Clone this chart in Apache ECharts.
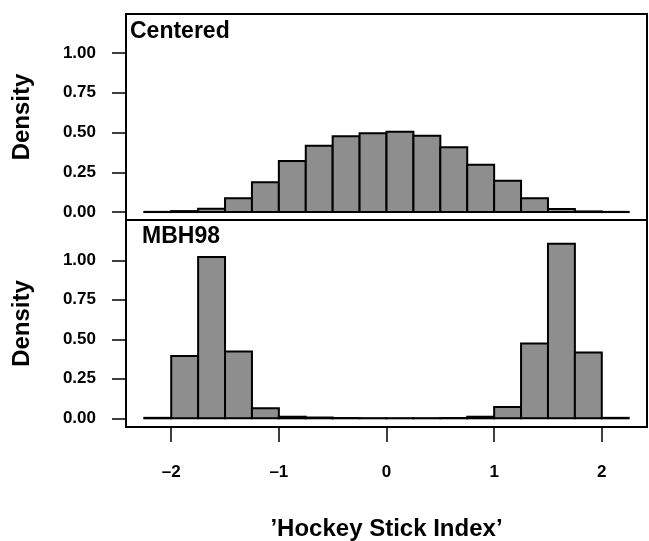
<!DOCTYPE html>
<html>
<head>
<meta charset="utf-8">
<script src="https://cdn.jsdelivr.net/npm/echarts@6/dist/echarts.min.js"></script>
<style>
html,body{margin:0;padding:0;background:#fff;}
#chart{width:649px;height:541px;}
</style>
</head>
<body>
<div id="chart"></div>
<script>
// Histogram bin edges (bin width 0.25)
var binLower = [-2.25, -2.0, -1.75, -1.5, -1.25, -1.0, -0.75, -0.5, -0.25, 0.0, 0.25, 0.5, 0.75, 1.0, 1.25, 1.5, 1.75, 2.0];
var binUpper = [-2.0, -1.75, -1.5, -1.25, -1.0, -0.75, -0.5, -0.25, 0.0, 0.25, 0.5, 0.75, 1.0, 1.25, 1.5, 1.75, 2.0, 2.25];
// Densities, panel "Centered"
var centered = [0.001, 0.006, 0.021, 0.086, 0.187, 0.321, 0.417, 0.476, 0.495, 0.505, 0.480, 0.407, 0.298, 0.197, 0.086, 0.019, 0.004, 0.001];
// Densities, panel "MBH98"
var mbh98 = [0.003, 0.394, 1.021, 0.423, 0.063, 0.010, 0.005, 0.002, 0.001, 0.001, 0.001, 0.002, 0.010, 0.072, 0.474, 1.105, 0.417, 0.003];
// Tick labels
var xTicks = [-2, -1, 0, 1, 2];
var yTicks = [0, 0.25, 0.5, 0.75, 1.0];
var panelTitles = ['Centered', 'MBH98'];
var yTitle = 'Density';
var xTitle = '\u2019Hockey Stick Index\u2019';

var FONT = '"Liberation Sans", Arial, Helvetica, sans-serif';

function toData(vals) {
  return vals.map(function (v, i) { return [binLower[i], binUpper[i], v]; });
}

function renderBin(params, api) {
  var p0 = api.coord([api.value(0), api.value(2)]);
  var p1 = api.coord([api.value(1), 0]);
  return {
    type: 'rect',
    shape: { x: p0[0], y: p0[1], width: p1[0] - p0[0], height: p1[1] - p0[1] },
    style: { fill: '#8e8e8e', stroke: '#000', lineWidth: 2 }
  };
}

function yAxisDef(gridIndex, min, max) {
  return {
    type: 'value', gridIndex: gridIndex, min: min, max: max,
    axisLine: { show: false, onZero: false },
    splitLine: { show: false },
    axisTick: { show: true, length: 14, customValues: yTicks, lineStyle: { color: '#000', width: 1.5 } },
    axisLabel: {
      customValues: yTicks, margin: 30, color: '#000', fontFamily: FONT, fontWeight: 'bold', fontSize: 17,
      formatter: function (v) { return v.toFixed(2); }
    },
    name: yTitle, nameLocation: 'middle', nameRotate: 90, nameGap: 92,
    nameTextStyle: { color: '#000', fontFamily: FONT, fontWeight: 'bold', fontSize: 24 }
  };
}

var chart = echarts.init(document.getElementById('chart'), null, { renderer: 'canvas' });
chart.setOption({
  animation: false,
  backgroundColor: '#fff',
  title: [
    { text: panelTitles[0], left: 130, top: 20, padding: 0,
      textStyle: { color: '#000', fontFamily: FONT, fontWeight: 'bold', fontSize: 23 } },
    { text: panelTitles[1], left: 142, top: 225, padding: 0,
      textStyle: { color: '#000', fontFamily: FONT, fontWeight: 'bold', fontSize: 23 } }
  ],
  grid: [
    { left: 126, right: 2, top: 14, height: 206, show: true, borderColor: '#000', borderWidth: 2, backgroundColor: 'transparent',
      containLabel: false, outerBoundsMode: 'none' },
    { left: 126, right: 2, top: 220, height: 207, show: true, borderColor: '#000', borderWidth: 2, backgroundColor: 'transparent',
      containLabel: false, outerBoundsMode: 'none' }
  ],
  xAxis: [
    { type: 'value', gridIndex: 0, min: -2.42, max: 2.42,
      axisLine: { show: false, onZero: false }, axisTick: { show: false }, axisLabel: { show: false }, splitLine: { show: false } },
    { type: 'value', gridIndex: 1, min: -2.42, max: 2.42,
      axisLine: { show: false, onZero: false }, splitLine: { show: false },
      axisTick: { show: true, length: 15, customValues: xTicks, lineStyle: { color: '#000', width: 1.5 } },
      axisLabel: {
        customValues: xTicks, margin: 37, color: '#000', fontFamily: FONT, fontWeight: 'bold', fontSize: 17,
        formatter: function (v) { return v < 0 ? '\u2013' + Math.abs(v) : String(v); }
      },
      name: xTitle, nameLocation: 'middle', nameGap: 90,
      nameTextStyle: { color: '#000', fontFamily: FONT, fontWeight: 'bold', fontSize: 24 }
    }
  ],
  yAxis: [ yAxisDef(0, -0.05, 1.245), yAxisDef(1, -0.055, 1.255) ],
  series: [
    { type: 'custom', xAxisIndex: 0, yAxisIndex: 0, renderItem: renderBin, data: toData(centered),
      encode: { x: [0, 1], y: 2 } },
    { type: 'custom', xAxisIndex: 1, yAxisIndex: 1, renderItem: renderBin, data: toData(mbh98),
      encode: { x: [0, 1], y: 2 } }
  ]
});
</script>
</body>
</html>
